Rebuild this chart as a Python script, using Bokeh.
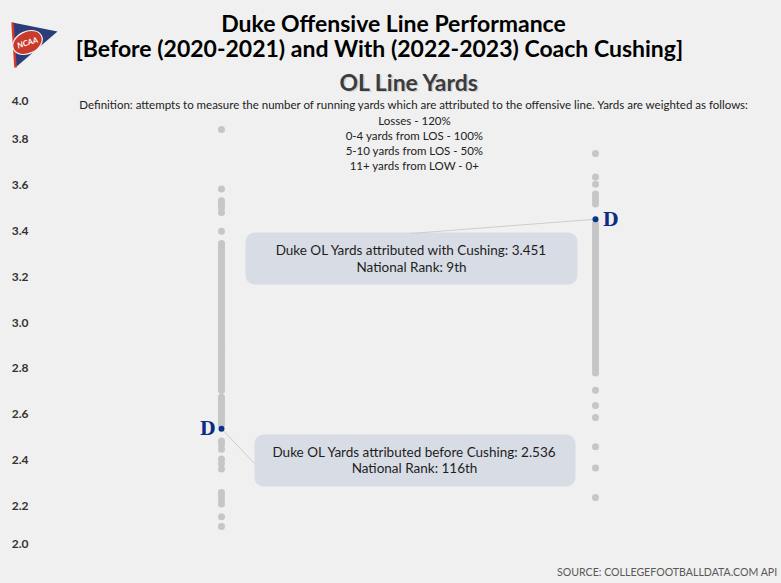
from bokeh.plotting import figure
from bokeh.models import Range1d, BoxAnnotation, GlobalInlineStyleSheet
from bokeh.core.properties import value
from bokeh.embed import file_html
from bokeh.resources import INLINE

# ---------------- data ----------------
periods = ["Before Cushing (2020-2021)", "With Cushing (2022-2023)"]

before_line_yards = [
    3.843, 3.583, 3.532, 3.516, 3.501, 3.480, 3.398,
    3.345, 3.336, 3.324, 3.317, 3.305, 3.296, 3.282, 3.271, 3.263, 3.250,
    3.239, 3.228, 3.219, 3.207, 3.196, 3.188, 3.174, 3.163, 3.155, 3.142,
    3.131, 3.122, 3.110, 3.098, 3.090, 3.077, 3.066, 3.058, 3.045, 3.033,
    3.025, 3.012, 3.001, 2.992, 2.980, 2.969, 2.960, 2.948, 2.937, 2.929,
    2.916, 2.904, 2.896, 2.884, 2.873, 2.864, 2.851, 2.840, 2.832, 2.819,
    2.808, 2.800, 2.787, 2.776, 2.768, 2.755, 2.744, 2.735, 2.722, 2.713,
    2.704, 2.675, 2.664, 2.652, 2.641, 2.628, 2.616, 2.604, 2.592, 2.580,
    2.566, 2.553, 2.482, 2.467, 2.446, 2.404, 2.385, 2.360, 2.258, 2.243,
    2.226, 2.207, 2.152, 2.109,
]

with_line_yards = [
    3.738, 3.635, 3.604, 3.561, 3.547, 3.532, 3.517,
    3.432, 3.421, 3.410, 3.398, 3.386, 3.377, 3.364, 3.352, 3.343, 3.330,
    3.318, 3.309, 3.296, 3.284, 3.275, 3.262, 3.250, 3.241, 3.228, 3.216,
    3.207, 3.194, 3.182, 3.173, 3.160, 3.148, 3.139, 3.126, 3.114, 3.105,
    3.092, 3.080, 3.071, 3.058, 3.046, 3.037, 3.024, 3.012, 3.003, 2.990,
    2.978, 2.969, 2.956, 2.944, 2.935, 2.922, 2.910, 2.901, 2.888, 2.876,
    2.867, 2.854, 2.842, 2.831, 2.818, 2.805, 2.792, 2.779,
    2.704, 2.638, 2.585, 2.457, 2.365, 2.236,
]

duke_line_yards = [2.536, 3.451]
duke_rank = ["116th", "9th"]
duke_phrase = ["before", "with"]

tick_values = [2.0, 2.2, 2.4, 2.6, 2.8, 3.0, 3.2, 3.4, 3.6, 3.8, 4.0]
tick_labels = ["2.0", "2.2", "2.4", "2.6", "2.8", "3.0", "3.2", "3.4", "3.6", "3.8", "4.0"]

title_lines = ["Duke Offensive Line Performance",
               "[Before (2020-2021) and With (2022-2023) Coach Cushing]"]
subtitle = "OL Line Yards"
definition_lines = [
    "Definition: attempts to measure the number of running yards which are attributed to the offensive line. Yards are weighted as follows:",
    "Losses - 120%",
    "0-4 yards from LOS - 100%",
    "5-10 yards from LOS - 50%",
    "11+ yards from LOW - 0+",
]
source_text = "SOURCE: COLLEGEFOOTBALLDATA.COM API"

# ---------------- layout helpers ----------------
BG = "#f0f0f0"
W, H = 781, 583


def X(px):
    # window pixel column -> data x
    return (px - 221) / 374


def Y(py):
    # window pixel row -> data y
    return 3.0 + (322 - py) / 229


p = figure(width=W, height=H,
           x_range=Range1d(X(0), X(W)), y_range=Range1d(Y(H), Y(0)),
           x_axis_location=None, y_axis_location=None,
           toolbar_location=None, tools="", output_backend="svg",
           background_fill_color=BG, border_fill_color=BG,
           outline_line_color=None, min_border=0)
p.grid.visible = False
p.stylesheets = [GlobalInlineStyleSheet(css="html, body { background-color: #f0f0f0; }")]

LATO = value("Lato")


def txt(x, y, s, size, color="#222222", style="normal", align="center", font=LATO, angle=0):
    p.text(x=[x], y=[y], text=[s], text_font=font, text_font_size=value(size),
           text_font_style=value(style), text_color=color, text_align=align,
           text_baseline="middle", angle=angle)


# ---------------- annotation boxes ----------------
box_geom = [(254, 575, 434, 486), (245, 577, 232, 284)]
for (l, r, t, b) in box_geom:
    p.add_layout(BoxAnnotation(left=X(l), right=X(r), top=Y(t), bottom=Y(b),
                               fill_color="#d8dce5", fill_alpha=1, line_color=None,
                               border_radius=9, level="underlay"))

# ---------------- dots ----------------
p.scatter([0] * len(before_line_yards), before_line_yards, size=7,
          fill_color="#c6c6c6", line_color=None)
p.scatter([1] * len(with_line_yards), with_line_yards, size=7,
          fill_color="#c6c6c6", line_color=None)

# connectors
p.segment(x0=[0, 1], y0=duke_line_yards, x1=[X(254), X(410)], y1=[Y(463), Y(233)],
          line_color="#cdcdcd", line_width=1)
p.scatter([0, 1], duke_line_yards, size=6, fill_color="#0b3388", line_color=None)

# Duke "D" logos
p.text(x=[X(207), X(610)], y=duke_line_yards, text=["D", "D"],
       text_font=value("DejaVu Serif"), text_font_size=value("18px"),
       text_font_style=value("bold"), text_color="#0a2d84",
       text_align="center", text_baseline="middle")

# box texts
box_center = [(414, 451, 467), (411, 249, 266)]
for i, (cx, y1, y2) in enumerate(box_center):
    txt(X(cx), Y(y1), f"Duke OL Yards attributed {duke_phrase[i]} Cushing: {duke_line_yards[i]:.3f}",
        "13.5px", color="#1e1e1e")
    txt(X(cx), Y(y2), f"National Rank: {duke_rank[i]}", "13.5px", color="#1e1e1e")

# ---------------- y tick labels (end labels kept inside the panel) ----------------
p.text(x=[X(28)] * len(tick_values), y=tick_values, text=tick_labels,
       y_offset=[-8, 0, 0, 0, 0, 0, 0, 0, 0, 0, 7],
       text_font=LATO, text_font_size=value("12px"), text_font_style=value("bold"),
       text_color="#333333", text_align="right", text_baseline="middle")

# ---------------- titles ----------------
txt(X(393), Y(22), title_lines[0], "23px", color="#000000", style="bold")
txt(X(379), Y(47), title_lines[1], "23px", color="#000000", style="bold")
txt(X(410.5), Y(82), subtitle, "23px", color="#d2d2d2", style="bold")
txt(X(409), Y(81), subtitle, "23px", color="#3c3c3c", style="bold")
def_rows = [104, 120, 135, 150, 165]
for s, row in zip(definition_lines, def_rows):
    txt(X(414), Y(row), s, "11.5px", color="#222222")

txt(X(777), Y(571), source_text, "10.6px", color="#595959", align="right")

# ---------------- NCAA logo ----------------
p.patch([X(12), X(57), X(15)], [Y(22), Y(31), Y(67)], fill_color="#2b3c78", line_color=None)
p.line([X(12), X(15)], [Y(22), Y(67)], line_color="#d0392b", line_width=2.5)
p.ellipse(x=[X(27)], y=[Y(42)], width=31, height=22, width_units="screen",
          height_units="screen", angle=0.45, fill_color="#c93a2c",
          line_color="#f4f4f4", line_width=1.2)
txt(X(27), Y(42), "NCAA", "8px", color="#ffffff", style="bold italic", angle=0.3)

open("out.html", "w").write(file_html(p, INLINE))
